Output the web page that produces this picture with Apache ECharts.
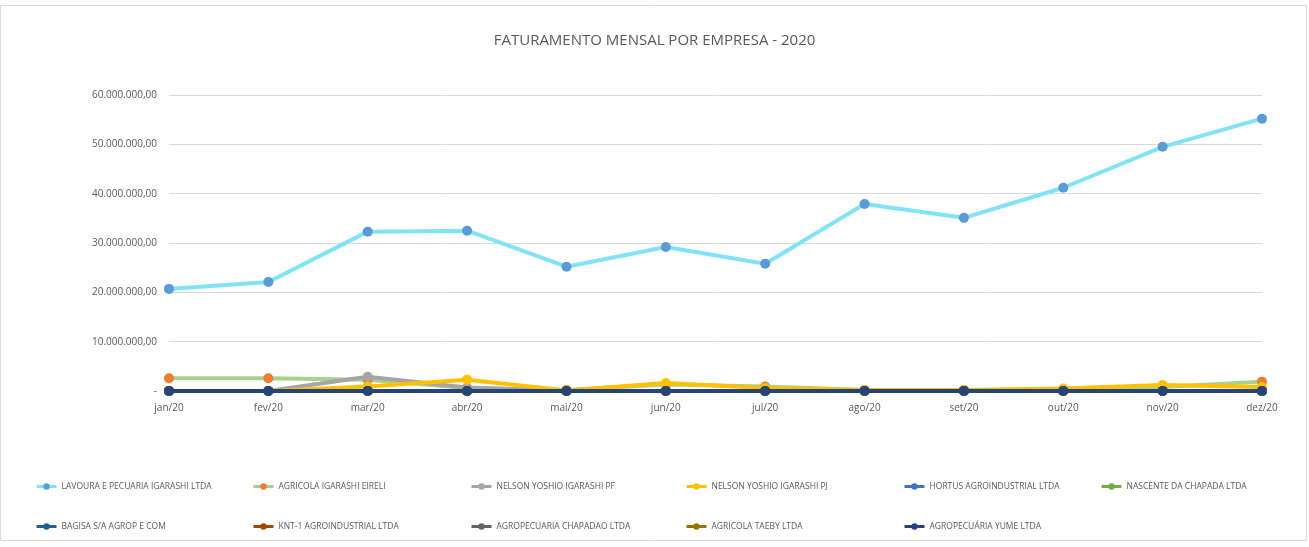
<!DOCTYPE html>
<html><head><meta charset="utf-8">
<script src="https://cdn.jsdelivr.net/npm/echarts@6/dist/echarts.min.js"></script>
<style>html,body{margin:0;padding:0;background:#fff}#c{width:1309px;height:547px}</style>
</head><body><div id="c"></div>
<script>
const months = ['jan/20','fev/20','mar/20','abr/20','mai/20','jun/20','jul/20','ago/20','set/20','out/20','nov/20','dez/20'];
const seriesNames = ['LAVOURA E PECUARIA IGARASHI LTDA','AGRICOLA IGARASHI EIRELI','NELSON YOSHIO IGARASHI PF','NELSON YOSHIO IGARASHI PJ','HORTUS AGROINDUSTRIAL LTDA','NASCENTE DA CHAPADA LTDA','BAGISA S/A AGROP E COM','KNT-1 AGROINDUSTRIAL LTDA','AGROPECUARIA CHAPADAO LTDA','AGRICOLA TAEBY LTDA','AGROPECUÁRIA YUME LTDA'];
const lavoura = [20700000,22100000,32300000,32500000,25200000,29200000,25800000,37900000,35100000,41200000,49500000,55200000];
const agricolaEireli = [2600000,2600000,2300000,600000,200000,1300000,900000,200000,200000,300000,800000,1900000];
const nelsonPF = [0,0,2900000,700000,0,0,0,0,0,0,0,0];
const nelsonPJ = [0,0,900000,2300000,100000,1600000,600000,200000,200000,500000,1200000,800000];
const hortus = [0,0,0,0,0,0,0,0,0,0,0,0];
const nascente = [0,0,0,0,0,0,0,0,0,0,0,0];
const bagisa = [0,0,0,0,0,0,0,0,0,0,0,0];
const knt1 = [0,0,0,0,0,0,0,0,0,0,0,0];
const chapadao = [0,0,0,0,0,0,0,0,0,0,0,0];
const taeby = [0,0,0,0,0,0,0,0,0,0,0,0];
const yume = [0,0,0,0,0,0,0,0,0,0,0,0];
const yTicks = [0,10000000,20000000,30000000,40000000,50000000,60000000];

const allData = [lavoura,agricolaEireli,nelsonPF,nelsonPJ,hortus,nascente,bagisa,knt1,chapadao,taeby,yume];
const lineColors = ['#82E3F7','#A9D18E','#A5A5A5','#FFC000','#4472C4','#70AD47','#255E91','#9E480E','#636363','#997300','#264478'];
const markerColors = ['#5B9BD5','#ED7D31','#A5A5A5','#FFC000','#4472C4','#70AD47','#255E91','#9E480E','#636363','#997300','#264478'];

function fmt(v){
  if (v === 0) return '-';
  const s = Math.round(v).toString().replace(/\B(?=(\d{3})+(?!\d))/g,'.');
  return s + ',00';
}

const chart = echarts.init(document.getElementById('c'));
const colX = [35,252,470,685,903,1100];
const rowY = [482,522];
const legends = seriesNames.map((n,i)=>({
  data:[n], left: colX[i%6], top: rowY[Math.floor(i/6)], padding:0,
  itemWidth: 20, itemHeight: 8, itemGap: 2,
  lineStyle:{width:3},
  textStyle:{fontSize:8.5, color:'#595959', fontFamily:'Open Sans'}
}));

chart.setOption({
  animation:false,
  title:{text:'FATURAMENTO MENSAL POR EMPRESA - 2020', left:'center', top:28,
    textStyle:{fontSize:15, fontWeight:'normal', color:'#595959', fontFamily:'Open Sans'}},
  graphic:[{type:'rect', shape:{x:0.5,y:5.5,width:1306,height:535}, style:{fill:'none', stroke:'#D9D9D9', lineWidth:1}, silent:true}],
  legend: legends,
  grid:{left:169, right:47, top:95, bottom:156},
  xAxis:{type:'category', data:months, boundaryGap:false,
    axisLine:{lineStyle:{color:'#D9D9D9'}}, axisTick:{show:false},
    axisLabel:{color:'#595959', fontSize:10, fontFamily:'Open Sans', margin:12}},
  yAxis:{type:'value', min:yTicks[0], max:yTicks[yTicks.length-1], interval:10000000,
    axisLine:{show:false}, axisTick:{show:false},
    splitLine:{lineStyle:{color:'#D9D9D9'}},
    axisLabel:{color:'#595959', fontSize:10, fontFamily:'Open Sans', margin:12, formatter:fmt}},
  series: allData.map((d,i)=>({
    name: seriesNames[i], type:'line', data:d,
    symbol:'circle', symbolSize:10,
    lineStyle:{width:4, color:lineColors[i]},
    itemStyle:{color:markerColors[i]},
    color: lineColors[i],
    z: 2 + i
  }))
});
</script></body></html>
